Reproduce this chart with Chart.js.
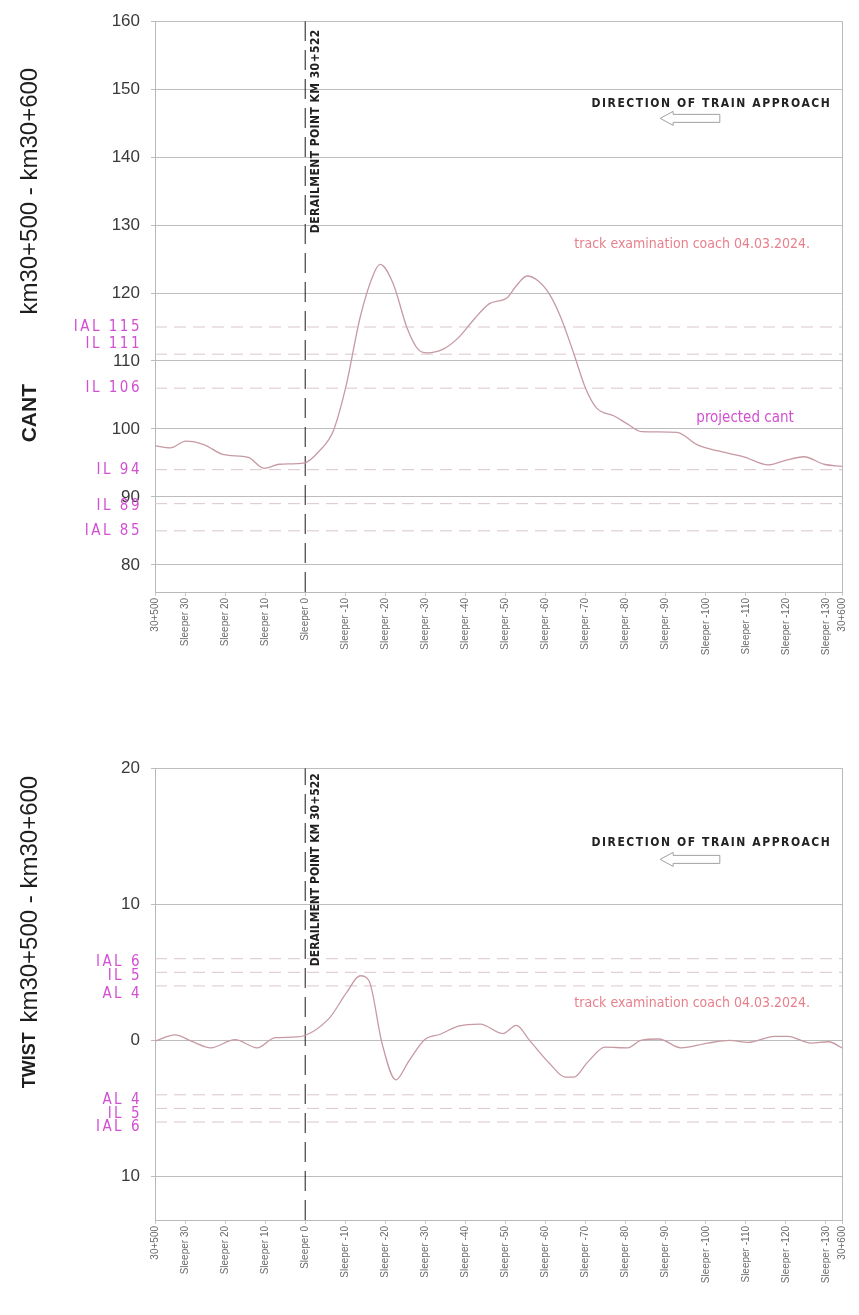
<!DOCTYPE html>
<html>
<head>
<meta charset="utf-8">
<script src="https://cdn.jsdelivr.net/npm/chart.js@4.4.1/dist/chart.umd.min.js"></script>
<style>
  html, body { margin: 0; padding: 0; background: #fff; }
  body { width: 859px; height: 1315px; position: relative; overflow: hidden; }
  .box { position: absolute; left: 0; width: 859px; }
  #cant-box { top: 0; height: 655px; }
  #twist-box { top: 747px; height: 536px; }
</style>
</head>
<body>
<div class="box" id="cant-box"><canvas id="cant-chart"></canvas></div>
<div class="box" id="twist-box"><canvas id="twist-chart"></canvas></div>
<script>
// x axis: sleeper numbers, km 30+500 on the left edge, km 30+600 on the right edge
const sleeperTicks = [37.5, 30, 20, 10, 0, -10, -20, -30, -40, -50, -60, -70, -80, -90, -100, -110, -120, -130, -134];
const sleeperTickLabels = ['30+500', 'Sleeper 30', 'Sleeper 20', 'Sleeper 10', 'Sleeper 0', 'Sleeper -10', 'Sleeper -20',
  'Sleeper -30', 'Sleeper -40', 'Sleeper -50', 'Sleeper -60', 'Sleeper -70', 'Sleeper -80', 'Sleeper -90',
  'Sleeper -100', 'Sleeper -110', 'Sleeper -120', 'Sleeper -130', '30+600'];

// cant measured by the track examination coach
const cantSleepers = [37.5, 33.7, 29.8, 25.3, 20.3, 14.2, 10.3, 6.4, 0.2, -3.6, -7, -10.3, -13.7, -17, -18.7, -22,
  -25.4, -28.2, -30.4, -34.3, -38.2, -42.1, -45.9, -50.4, -52.6, -55.4, -58.1, -61, -63.8, -67.1, -69.9, -72.7,
  -77.1, -80.5, -83.9, -92.8, -97.8, -102.8, -109.5, -115.6, -119.5, -124.5, -129.5, -134];
const cantValues = [97.5, 97.2, 98.2, 97.7, 96.2, 95.8, 94.2, 94.8, 95.0, 96.8, 99.7, 106.6, 116.4, 122.7, 124.2, 121.3,
  114.9, 111.7, 111.2, 111.7, 113.4, 116.1, 118.4, 119.3, 121.0, 122.5, 121.8, 119.8, 116.4, 111.0, 106.1, 103.1,
  101.9, 100.7, 99.6, 99.5, 97.7, 96.8, 95.9, 94.7, 95.3, 95.9, 94.8, 94.5];
const cantTicks = [80, 90, 100, 110, 120, 130, 140, 150, 160];
const cantLimitValues = [115, 111, 106, 94, 89, 85];
const cantLimitLabels = ['IAL 115', 'IL 111', 'IL 106', 'IL 94', 'IL 89', 'IAL 85'];

// twist
const twistSleepers = [37.5, 32.5, 28.1, 23.6, 17.5, 12, 7.5, 2, -5.9, -10.3, -13.7, -15.9, -19.2, -22.6, -25.9, -29.8,
  -33.7, -38.2, -43.7, -49.3, -52.7, -56, -61, -64.9, -67.1, -70.5, -74.9, -80.5, -83.8, -88.3, -93.8, -100.5,
  -106, -110.5, -117.2, -120.5, -126.2, -130.7, -134];
const twistValues = [-0.05, 0.4, -0.1, -0.55, 0.05, -0.55, 0.2, 0.25, 1.6, 3.5, 4.75, 4.4, -0.25, -2.9, -1.5, 0.05,
  0.45, 1.05, 1.2, 0.5, 1.1, 0, -1.7, -2.7, -2.7, -1.6, -0.5, -0.55, 0, 0.1, -0.55, -0.2,
  0, -0.15, 0.3, 0.3, -0.2, -0.1, -0.55];
const twistTicks = [-10, 0, 10, 20];
const twistLimitValues = [6, 5, 4, -4, -5, -6];
const twistLimitLabels = ['IAL 6', 'IL 5', 'AL 4', 'AL 4', 'IL 5', 'IAL 6'];

const X_LEFT = 37.5;
const X_RIGHT = -134;
const SANS = "'Liberation Sans', Arial, sans-serif";
const NARROW = "'Liberation Sans Narrow', 'DejaVu Sans Condensed', 'Liberation Sans', sans-serif";
const MAGENTA = '#d24fd2';

// text stretched to a given width by letter spacing
function spacedText(ctx, text, x, y, width) {
  ctx.letterSpacing = '0px';
  const w = ctx.measureText(text).width;
  const sp = Math.max(0, (width - w) / text.length);
  ctx.letterSpacing = sp + 'px';
  ctx.fillText(text, x, y);
  ctx.letterSpacing = '0px';
}

const overlayPlugin = {
  id: 'overlay',
  afterDatasetsDraw(chart, args, o) {
    const { ctx, chartArea } = chart;
    const xs = chart.scales.x;
    const ys = chart.scales.y;
    ctx.save();

    // left titles
    o.titles.forEach((t) => {
      ctx.save();
      ctx.translate(30, chartArea.top + t.dy);
      ctx.rotate(-Math.PI / 2);
      ctx.font = (t.bold ? 'bold ' : '') + t.size + 'px ' + SANS;
      ctx.fillStyle = '#1e1e1e';
      ctx.textAlign = 'center';
      ctx.textBaseline = 'middle';
      if (t.bold) spacedText(ctx, t.text, 0, 0, t.width);
      else ctx.fillText(t.text, 0, 0);
      ctx.restore();
    });

    // limit labels left of the axis
    ctx.font = '15px ' + NARROW;
    ctx.fillStyle = MAGENTA;
    ctx.textAlign = 'right';
    ctx.textBaseline = 'middle';
    o.limitValues.forEach((v, i) => {
      const y = ys.getPixelForValue(v) + o.limitNudge[i];
      ctx.letterSpacing = '2.5px';
      ctx.fillText(o.limitLabels[i], chartArea.left - 13, y);
    });
    ctx.letterSpacing = '0px';

    // derailment point text
    const dx = xs.getPixelForValue(0) + 11;
    ctx.save();
    ctx.translate(dx, chartArea.top + o.derailDy);
    ctx.rotate(-Math.PI / 2);
    ctx.font = 'bold 12px ' + NARROW;
    ctx.fillStyle = '#202020';
    ctx.textAlign = 'left';
    ctx.textBaseline = 'middle';
    spacedText(ctx, 'DERAILMENT POINT KM 30+522', 0, 0, o.derailDy - 8);
    ctx.restore();

    // direction of train approach
    ctx.font = 'bold 12px ' + NARROW;
    ctx.fillStyle = '#222';
    ctx.textAlign = 'center';
    ctx.textBaseline = 'middle';
    spacedText(ctx, 'DIRECTION OF TRAIN APPROACH', xs.getPixelForValue(o.direction.x), ys.getPixelForValue(o.direction.y), 240);

    // hollow arrow pointing left
    const ax1 = xs.getPixelForValue(o.arrow.from);
    const ax2 = xs.getPixelForValue(o.arrow.to);
    const ay = ys.getPixelForValue(o.arrow.y);
    const head = 13;
    ctx.beginPath();
    ctx.moveTo(ax1, ay);
    ctx.lineTo(ax1 + head, ay - 7);
    ctx.lineTo(ax1 + head, ay - 4);
    ctx.lineTo(ax2, ay - 4);
    ctx.lineTo(ax2, ay + 4);
    ctx.lineTo(ax1 + head, ay + 4);
    ctx.lineTo(ax1 + head, ay + 7);
    ctx.closePath();
    ctx.strokeStyle = '#a0a0a0';
    ctx.lineWidth = 1;
    ctx.stroke();

    // notes
    o.notes.forEach((n) => {
      ctx.font = n.size + 'px ' + NARROW;
      ctx.fillStyle = n.color;
      ctx.textAlign = 'center';
      ctx.textBaseline = 'middle';
      ctx.fillText(n.text, xs.getPixelForValue(n.x), ys.getPixelForValue(n.y));
    });

    ctx.restore();
  },
};

function makeChart(id, cfg) {
  const curve = cfg.sleepers.map((s, i) => ({ x: s, y: cfg.values[i] }));
  const datasets = [
    {
      label: 'measured',
      data: curve,
      borderColor: '#c79aa3',
      borderWidth: 1.3,
      pointRadius: 0,
      cubicInterpolationMode: 'monotone',
      order: 0,
    },
    {
      label: 'derailment',
      data: [{ x: 0, y: cfg.min }, { x: 0, y: cfg.max }],
      borderColor: '#1a1a1a',
      borderWidth: 1,
      borderDash: [20, 9],
      pointRadius: 0,
      order: 1,
    },
  ];
  cfg.limitValues.forEach((v) => {
    datasets.push({
      label: 'limit ' + v,
      data: [{ x: X_LEFT, y: v }, { x: X_RIGHT, y: v }],
      borderColor: '#d9c6cb',
      borderWidth: 1,
      borderDash: [12, 7],
      pointRadius: 0,
      order: 2,
    });
  });

  return new Chart(document.getElementById(id), {
    type: 'line',
    data: { datasets: datasets },
    options: {
      responsive: true,
      maintainAspectRatio: false,
      animation: false,
      layout: { padding: { top: 20, right: 17, left: 0, bottom: 0 } },
      plugins: {
        legend: { display: false },
        tooltip: { enabled: false },
        overlay: cfg.overlay,
      },
      scales: {
        x: {
          type: 'linear',
          reverse: true,
          min: X_RIGHT,
          max: X_LEFT,
          afterBuildTicks: (s) => {
            s.ticks = sleeperTicks.map((v) => ({ value: v }));
          },
          afterFit: (s) => {
            s.height = 63;
          },
          ticks: {
            autoSkip: false,
            minRotation: 90,
            maxRotation: 90,
            padding: 2,
            color: '#6a6a6a',
            font: { family: SANS, size: 10 },
            callback: (v, i) => sleeperTickLabels[i],
          },
          grid: {
            color: (c) => (c.tick && (c.tick.value === X_LEFT || c.tick.value === X_RIGHT) ? '#b8b8b8' : 'rgba(0,0,0,0)'),
            tickColor: '#c8c8c8',
            tickLength: 4,
          },
          border: { color: '#b8b8b8' },
        },
        y: {
          type: 'linear',
          min: cfg.min,
          max: cfg.max,
          afterBuildTicks: (s) => {
            s.ticks = cfg.ticks.map((v) => ({ value: v }));
          },
          afterFit: (s) => {
            s.width = 155;
          },
          ticks: {
            autoSkip: false,
            padding: 11,
            color: '#3a3a3a',
            font: { family: SANS, size: 17 },
            callback: (v) => String(Math.abs(v)),
          },
          grid: { color: '#bdbdbd', tickColor: '#bdbdbd', tickLength: 4 },
          border: { color: '#b8b8b8' },
        },
      },
    },
    plugins: [overlayPlugin],
  });
}

const charts = [];

charts.push(makeChart('cant-chart', {
  sleepers: cantSleepers,
  values: cantValues,
  ticks: cantTicks,
  min: 76,
  max: 160,
  limitValues: cantLimitValues,
  overlay: {
    limitValues: cantLimitValues,
    limitLabels: cantLimitLabels,
    limitNudge: [0, -10, 0, 0, 2, 0],
    titles: [
      { text: 'km30+500 - km30+600', dy: 170, size: 24 },
      { text: 'CANT', dy: 392, size: 21, bold: true, width: 55 },
    ],
    derailDy: 212,
    direction: { x: -101.4, y: 147.8 },
    arrow: { from: -88.6, to: -103.5, y: 145.7 },
    notes: [
      { text: 'track examination coach 04.03.2024.', x: -96.6, y: 127.1, color: '#e8808c', size: 14 },
      { text: 'projected cant', x: -109.8, y: 101.6, color: MAGENTA, size: 15 },
    ],
  },
}));

charts.push(makeChart('twist-chart', {
  sleepers: twistSleepers,
  values: twistValues,
  ticks: twistTicks,
  min: -13.2,
  max: 20,
  limitValues: twistLimitValues,
  overlay: {
    limitValues: twistLimitValues,
    limitLabels: twistLimitLabels,
    limitNudge: [3, 4, 8, 5, 6, 5],
    titles: [
      { text: 'km30+500 - km30+600', dy: 131, size: 24 },
      { text: 'TWIST', dy: 292, size: 18, bold: true, width: 54 },
    ],
    derailDy: 198,
    direction: { x: -101.4, y: 14.5 },
    arrow: { from: -88.6, to: -103.5, y: 13.3 },
    notes: [
      { text: 'track examination coach 04.03.2024.', x: -96.6, y: 2.7, color: '#e8808c', size: 14 },
    ],
  },
}));
</script>
</body>
</html>
